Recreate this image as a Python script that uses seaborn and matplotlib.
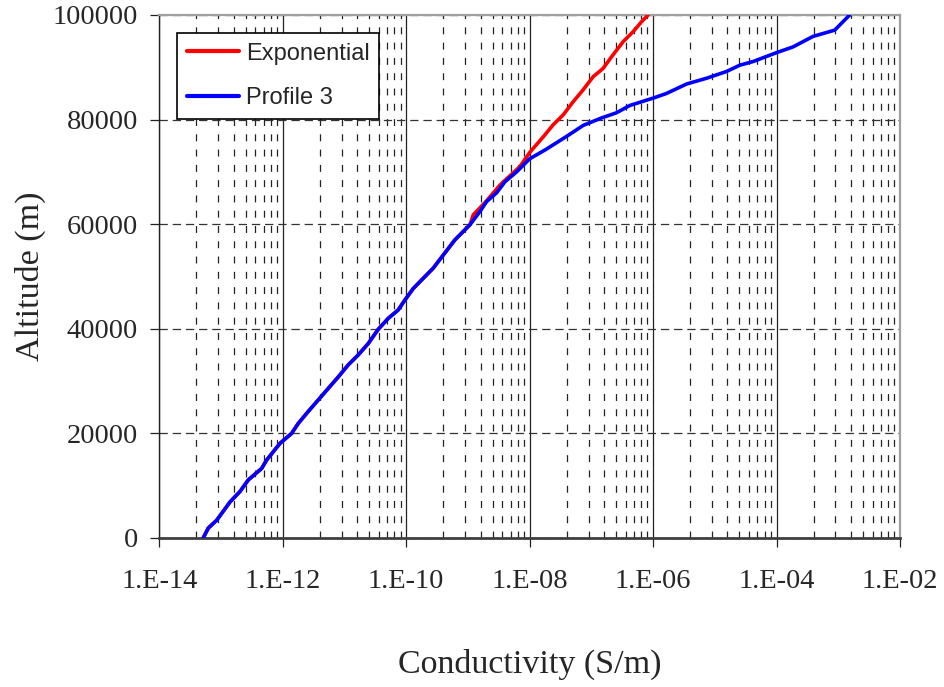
import numpy as np
import pandas as pd
import matplotlib
matplotlib.use("Agg")
import matplotlib.pyplot as plt
from matplotlib.ticker import FixedLocator, FuncFormatter, NullFormatter
import seaborn as sns

# Conductivity profiles: altitude (m) and conductivity (S/m)
profile3_alt = [0, 1900, 3400, 6900, 8900, 11100, 13300, 14900, 18100, 20000,
                21900, 24200, 26400, 28600, 30800, 33100, 35000, 37200, 39900,
                42000, 43600, 45500, 47700, 51600, 54100, 57000, 59900, 62400,
                64300, 66000, 68100, 70000, 72500, 74200, 76800, 78900, 80300,
                81300, 82700, 84100, 85000, 86800, 87900, 89200, 90400, 91100,
                92800, 93900, 95900, 97100, 98700, 100000]
profile3_cond = [5.13e-14, 6.22e-14, 8.51e-14, 1.40e-13, 2.03e-13, 2.76e-13,
                 4.55e-13, 5.48e-13, 9.02e-13, 1.39e-12, 1.78e-12, 2.59e-12,
                 3.76e-12, 5.46e-12, 7.93e-12, 1.15e-11, 1.67e-11, 2.43e-11,
                 3.52e-11, 5.12e-11, 7.41e-11, 9.53e-11, 1.30e-10, 2.74e-10,
                 3.98e-10, 6.15e-10, 1.08e-9, 1.56e-9, 2.00e-9, 2.91e-9,
                 3.98e-9, 6.14e-9, 1.00e-8, 1.78e-8, 3.98e-8, 7.41e-8,
                 1.45e-7, 2.55e-7, 4.20e-7, 1.00e-6, 1.65e-6, 3.48e-6,
                 7.33e-6, 1.55e-5, 2.54e-5, 4.17e-5, 1.00e-4, 1.85e-4,
                 3.89e-4, 8.75e-4, 1.19e-3, 1.53e-3]

exp_alt = profile3_alt[:27] + [61800, 64300, 67500, 71000, 73700, 76700, 79000,
                               80900, 83400, 85700, 88200, 89800, 92000, 94900,
                               96800, 98700, 100000]
exp_cond = profile3_cond[:27] + [1.22e-9, 1.95e-9, 3.31e-9, 6.93e-9, 1.00e-8,
                                 1.66e-8, 2.40e-8, 3.49e-8, 5.06e-8, 7.35e-8,
                                 1.07e-7, 1.55e-7, 2.12e-7, 3.27e-7, 4.74e-7,
                                 6.49e-7, 8.30e-7]

x_major = [1e-14, 1e-12, 1e-10, 1e-8, 1e-6, 1e-4, 1e-2]
y_major = [0, 20000, 40000, 60000, 80000, 100000]

sns.set_style("white")
plt.rcParams["lines.scale_dashes"] = False

fig = plt.figure(figsize=(9.45, 6.87), dpi=100)
ax = fig.add_axes([0.1686, 0.2169, 0.7838, 0.7613])

df_exp = pd.DataFrame({"cond": exp_cond, "alt": exp_alt})
df_p3 = pd.DataFrame({"cond": profile3_cond, "alt": profile3_alt})
sns.lineplot(data=df_exp, x="cond", y="alt", ax=ax, color="#ff0000",
             lw=2.6, sort=False, estimator=None, label="Exponential", zorder=3)
sns.lineplot(data=df_p3, x="cond", y="alt", ax=ax, color="#0000ff",
             lw=2.6, sort=False, estimator=None, label="Profile 3", zorder=4)

ax.set_xscale("log")
ax.set_xlim(1e-14, 1e-2)
ax.set_ylim(0, 100000)

# two-decade major steps, minor lines at k^2 within each step
minor = [1e-14 * (k ** 2) * 100 ** n for n in range(6) for k in range(2, 10)]
ax.xaxis.set_major_locator(FixedLocator(x_major))
ax.xaxis.set_minor_locator(FixedLocator(minor))
ax.xaxis.set_minor_formatter(NullFormatter())
ax.yaxis.set_major_locator(FixedLocator(y_major))

def sci_label(v, pos):
    e = int(round(np.log10(v)))
    return "1.E-%02d" % (-e) if e < 0 else "1.E+%02d" % e

ax.xaxis.set_major_formatter(FuncFormatter(sci_label))
ax.yaxis.set_major_formatter(FuncFormatter(lambda v, p: "%d" % v))

ax.set_axisbelow(True)
ax.grid(False)
ax.xaxis.grid(True, which="major", color="#222222", lw=0.9, ls="-")
ax.xaxis.grid(True, which="minor", color="#222222", lw=0.9, ls=(0, (5.0, 6.0)))
ax.yaxis.grid(True, which="major", color="#333333", lw=0.9, ls=(0, (6.0, 3.5)))

serif = ["Liberation Serif", "DejaVu Serif"]
ax.tick_params(axis="both", which="major", direction="out", length=6.5,
               width=0.9, color="#222222", labelsize=20.5, bottom=True, left=True)
ax.tick_params(axis="x", which="major", pad=16)
ax.tick_params(axis="y", which="major", pad=9)
ax.tick_params(axis="x", which="minor", length=0)
for lab in ax.get_xticklabels() + ax.get_yticklabels():
    lab.set_family(serif)

for side in ["top", "right"]:
    ax.spines[side].set_color("#a0a0a0")
    ax.spines[side].set_linewidth(1.6)
ax.spines["left"].set_color("#222222")
ax.spines["left"].set_linewidth(1.0)
ax.spines["bottom"].set_color("#404040")
ax.spines["bottom"].set_linewidth(2.0)

ax.set_xlabel("Conductivity (S/m)", fontsize=24.5, family=serif, va="center")
ax.xaxis.set_label_coords(0.5, -0.241)
ax.set_ylabel("Altitude (m)", fontsize=24.5, family=serif, va="center")
ax.yaxis.set_label_coords(-0.1745, 0.5)

leg = ax.legend(loc="upper left", bbox_to_anchor=(0.0235, 0.966),
                prop={"family": ["Liberation Sans", "DejaVu Sans"], "size": 17},
                frameon=True, fancybox=False, shadow=False, borderaxespad=0,
                handlelength=2.2, handletextpad=0.3, labelspacing=0.95,
                borderpad=0.42)
frame = leg.get_frame()
frame.set_edgecolor("#000000")
frame.set_linewidth(1.2)
frame.set_facecolor("white")
frame.set_alpha(1)
for line in leg.get_lines():
    line.set_linewidth(3.0)

fig.savefig("out.png", dpi=100, facecolor="white")
